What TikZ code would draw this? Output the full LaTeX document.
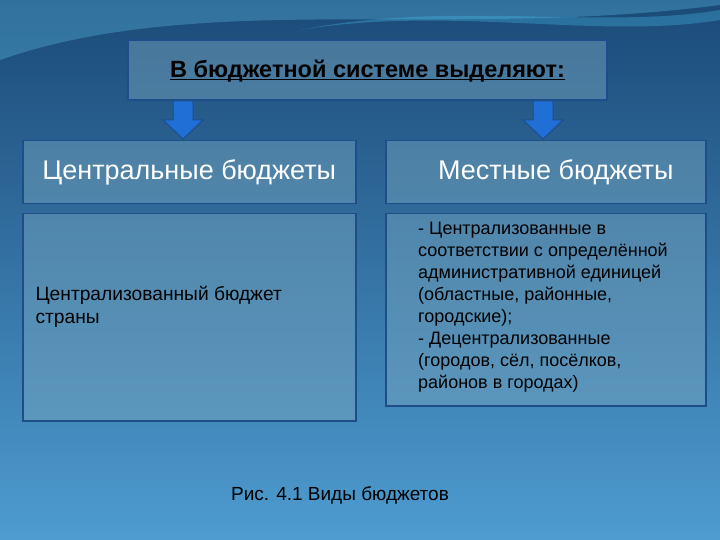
\documentclass[tikz,border=0pt]{standalone}
\usepackage{fontspec}
\setmainfont{Liberation Sans}
\definecolor{bgtop}{HTML}{1B4A78}
\definecolor{bgbot}{HTML}{4E9CD0}
\definecolor{bord}{HTML}{1D4E8A}
\definecolor{bfill}{HTML}{7AA8C0}
\definecolor{arrc}{HTML}{1F6FD6}
\begin{document}
\begin{tikzpicture}[x=1pt,y=-1pt,
  box/.style={draw=bord,line width=1.5pt,fill=bfill,fill opacity=0.45,text opacity=1,inner sep=6pt}]
\useasboundingbox (0,0) rectangle (720,540);
\shade[top color=bgtop,bottom color=bgbot] (0,0) rectangle (720,540);
\fill[cyan!60!white,opacity=0.3] (0,60) .. controls (200,-10) and (450,40) .. (720,5) -- (720,0) -- (0,0) -- cycle;
\fill[cyan!70!white,opacity=0.3] (300,30) .. controls (450,5) and (600,40) .. (720,20) -- (720,10) .. controls (600,30) and (450,0) .. (300,30);
\node[box,minimum width=479pt,minimum height=60pt,font=\fontsize{23.5}{26}\selectfont] (t) at (367.5,70) {\bfseries\underbar{В бюджетной системе выделяют:}};
\node[box,minimum width=333pt,minimum height=63pt,anchor=north west,text=white,font=\fontsize{27}{30}\selectfont] (cb) at (22,140) {Центральные бюджеты};
\node[box,minimum width=320pt,minimum height=63pt,anchor=north west,text=white,font=\fontsize{27}{30}\selectfont] (lb) at (385,140) {\hspace*{20pt}Местные бюджеты};
\foreach \x/\n in {183/a1,543/a2}{
  \fill[arrc,draw=bord,line width=1pt] (\x-10,101) -- (\x+10,101) -- (\x+10,120) -- (\x+20,120) -- (\x,139) -- (\x-20,120) -- (\x-10,120) -- cycle;
  \coordinate (\n) at (\x,120);}
\node[box,minimum width=333pt,minimum height=207pt,anchor=north west] (cd) at (22,213) {};
\node[anchor=west,align=left,font=\fontsize{19.2}{23}\selectfont] (cdt) at (32,307) {Централизованный бюджет\\страны};
\node[box,minimum width=320pt,minimum height=192pt,anchor=north west] (ld) at (385,213) {};
\node[anchor=north west,align=left,font=\fontsize{18}{22}\selectfont,inner sep=0pt] (ldt) at (418,222) {- Централизованные в\\соответствии с определённой\\административной единицей\\(областные, районные,\\городские);\\- Децентрализованные\\(городов, сёл, посёлков,\\районов в городах)};
\node[font=\fontsize{19}{22}\selectfont] (cap) at (340,495) {Рис. 4.1 Виды бюджетов};
\end{tikzpicture}
\end{document}
